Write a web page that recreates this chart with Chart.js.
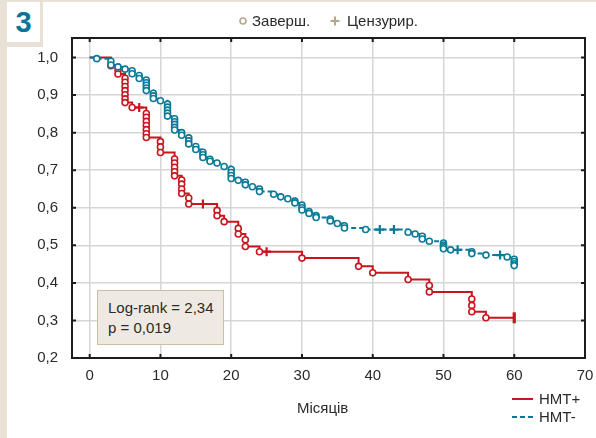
<!DOCTYPE html>
<html>
<head>
<meta charset="utf-8">
<script src="https://cdn.jsdelivr.net/npm/chart.js@4/dist/chart.umd.min.js"></script>
<style>
  html, body { margin:0; padding:0; }
  body { width:596px; height:438px; overflow:hidden; background:#e8e1d5; position:relative;
         font-family:"Liberation Sans", Arial, sans-serif; color:#222; }
  .abs { position:absolute; }
  .white { background:#fff; }
  #c { position:absolute; left:0; top:0; }
  .txt { font-size:15px; line-height:18px; white-space:nowrap; color:#2a2a2a; }
</style>
</head>
<body>
<div class="abs white" style="left:43px;top:2px;width:553px;height:436px;"></div>
<div class="abs white" style="left:7px;top:47px;width:589px;height:391px;"></div>
<div class="abs white" style="left:7px;top:2px;width:33px;height:40px;"></div>
<div class="abs" style="left:7px;top:2px;width:33px;height:40px;text-align:center;font:bold 29px/40px 'Liberation Sans',Arial,sans-serif;color:#0a7595;">3</div>

<canvas id="c" width="596" height="438"></canvas>

<!-- top legend -->
<svg class="abs" style="left:238px;top:15px;" width="12" height="12"><circle cx="5" cy="6" r="3" fill="#fff" stroke="#b9a68a" stroke-width="1.6"/></svg>
<div class="abs txt" style="left:252px;top:12px;">Заверш.</div>
<svg class="abs" style="left:329px;top:15px;" width="12" height="12"><path d="M6 1.5 V10.5 M1.5 6 H10.5" stroke="#b9a68a" stroke-width="2"/></svg>
<div class="abs txt" style="left:347px;top:12px;">Цензурир.</div>

<!-- x axis title -->
<div class="abs txt" style="left:297px;top:399px;">Місяців</div>

<!-- log-rank box -->
<div class="abs" style="left:97px;top:290px;width:125px;height:53px;background:#eeeae3;border:1.5px solid #cdbfa2;"></div>
<div class="abs txt" style="left:108px;top:299px;">Log-rank = 2,34</div>
<div class="abs txt" style="left:108px;top:319px;">p = 0,019</div>

<!-- bottom-right legend -->
<svg class="abs" style="left:510px;top:392px;" width="26" height="30">
  <line x1="2" y1="7" x2="23" y2="7" stroke="#c8161e" stroke-width="2"/>
  <line x1="2" y1="25" x2="23" y2="25" stroke="#0b7a98" stroke-width="2" stroke-dasharray="5,3"/>
</svg>
<div class="abs txt" style="left:539px;top:390px;">HMT+</div>
<div class="abs txt" style="left:539px;top:408px;">HMT-</div>

<script>
// ---- data ----
const xTicks = [0, 10, 20, 30, 40, 50, 60, 70];
const yTicks = [0.2, 0.3, 0.4, 0.5, 0.6, 0.7, 0.8, 0.9, 1.0];

// HMT+ (red): time (months), survival, marker ('o' event, '+' censored, '|' end censor, '' none)
const redT = [0, 3, 4, 4, 5, 5, 5, 5, 5, 5, 5, 6, 7, 8, 8, 8, 8, 8, 8, 8, 10, 10, 10,
  12, 12, 12, 12, 12, 13, 13, 13, 13, 14, 14, 16, 18, 18, 19, 21, 21, 22, 22, 24, 25,
  30, 38, 40, 45, 48, 48, 54, 54, 54, 56, 60];
const redS = [1.0, .978, .967, .956, .945, .934, .923, .912, .901, .890, .880, .867, .867,
  .851, .841, .830, .819, .808, .797, .787, .776, .762, .747,
  .730, .719, .708, .696, .685, .674, .663, .650, .638, .626, .610, .610, .593, .579, .563,
  .545, .530, .515, .497, .483, .483, .466, .444, .427, .409, .393, .376, .357, .340, .323, .307, .307];
const redM = ['', 'o', 'o', 'o', 'o', 'o', 'o', 'o', 'o', 'o', 'o', 'o', '+',
  'o', 'o', 'o', 'o', 'o', 'o', 'o', 'o', 'o', 'o',
  'o', 'o', 'o', 'o', 'o', 'o', 'o', 'o', 'o', 'o', 'o', '+', 'o', 'o', 'o',
  'o', 'o', 'o', 'o', 'o', '+', 'o', 'o', 'o', 'o', 'o', 'o', 'o', 'o', 'o', 'o', '|'];

// HMT- (teal)
const tealT = [0, 1, 3, 3, 4, 5, 6, 6, 7, 7, 8, 8, 8, 8, 8, 9, 9, 9, 10,
  11, 11, 11, 11, 11, 12, 12, 12, 12, 12, 13, 13, 14, 14, 14, 15, 15, 16, 16, 16,
  17, 17, 18, 19, 20, 20, 20, 20, 21, 22, 22, 23, 24, 24, 26, 27, 28, 29, 29,
  30, 30, 30, 31, 31, 32, 32, 34, 34, 35, 36, 36, 39, 41, 43, 45, 46, 47, 47, 48,
  50, 50, 50, 50, 51, 52, 54, 54, 56, 58, 59, 60, 60, 60, 60];
const tealS = [1.0, .997, .990, .980, .975, .969, .965, .957, .952, .944,
  .940, .933, .926, .919, .912, .905, .898, .891, .885,
  .876, .868, .860, .852, .844, .837, .829, .822, .814, .807, .800, .793,
  .786, .778, .770, .763, .755, .748, .741, .734, .729, .724, .719, .710,
  .702, .694, .686, .678, .673, .668, .661, .656, .650, .643, .636, .629, .624, .618, .613,
  .607, .600, .594, .590, .585, .579, .574, .570, .565, .558, .552, .546, .542, .542, .542,
  .535, .530, .524, .517, .511, .506, .501, .496, .491, .488, .488, .483, .478, .474, .474,
  .469, .463, .457, .451, .446];
const tealM = tealT.map((t, i) => i === 0 ? '' : ([41, 43, 52, 58].includes(t) ? '+' : 'o'));

const RED = '#c8161e', TEAL = '#0b7a98';

function ds(label, T, S, M, color, dash) {
  return {
    label,
    data: T.map((t, i) => ({ x: t, y: S[i] })),
    borderColor: color,
    borderWidth: 2,
    borderDash: dash,
    stepped: true,
    fill: false,
    pointBackgroundColor: '#fff',
    pointBorderColor: color,
    pointStyle: c => { const m = M[c.dataIndex]; return m === '+' ? 'cross' : (m === '|' ? 'line' : 'circle'); },
    pointRadius: c => { const m = M[c.dataIndex]; return m === '' ? 0 : (m === 'o' ? 3 : (m === '+' ? 4.5 : 5.5)); },
    pointRotation: c => M[c.dataIndex] === '|' ? 90 : 0,
    pointBorderWidth: c => { const m = M[c.dataIndex]; return m === 'o' ? 1.6 : (m === '+' ? 2.2 : 3.2); }
  };
}

const framePlugin = {
  id: 'frame',
  afterDraw(chart) {
    const { ctx, chartArea: a, scales: { x, y } } = chart;
    ctx.save();
    ctx.strokeStyle = '#1c1c1c';
    ctx.lineWidth = 2;
    ctx.strokeRect(a.left, a.top, a.right - a.left, a.bottom - a.top);
    ctx.beginPath();
    xTicks.forEach(v => {
      const p = x.getPixelForValue(v);
      ctx.moveTo(p, a.bottom); ctx.lineTo(p, a.bottom - 4);
      ctx.moveTo(p, a.top); ctx.lineTo(p, a.top + 4);
    });
    yTicks.forEach(v => {
      const p = y.getPixelForValue(v);
      ctx.moveTo(a.left, p); ctx.lineTo(a.left + 4, p);
      ctx.moveTo(a.right, p); ctx.lineTo(a.right - 4, p);
    });
    ctx.stroke();
    ctx.restore();
  }
};

const font = { family: "'Liberation Sans', Arial, sans-serif", size: 15 };

new Chart(document.getElementById('c'), {
  type: 'line',
  data: { datasets: [ ds('HMT-', tealT, tealS, tealM, TEAL, [5, 3]), ds('HMT+', redT, redS, redM, RED, []) ] },
  options: {
    responsive: false,
    animation: false,
    events: [],
    layout: { padding: { left: 0, top: 38, right: 11, bottom: 0 } },
    plugins: { legend: { display: false }, tooltip: { enabled: false } },
    scales: {
      x: {
        type: 'linear', position: 'bottom', min: -2.5, max: 70,
        afterBuildTicks: s => { s.ticks = xTicks.map(v => ({ value: v })); },
        afterFit: s => { s.height = 80; s.paddingLeft = 0; s.paddingRight = 0; },
        grid: { color: '#d6d6d6', lineWidth: 1.5, drawTicks: false },
        border: { display: false },
        ticks: { font, color: '#2a2a2a', padding: 9, maxRotation: 0, autoSkip: false }
      },
      y: {
        type: 'linear', min: 0.2, max: 1.052,
        afterBuildTicks: s => { s.ticks = yTicks.map(v => ({ value: v })); },
        afterFit: s => { s.width = 72; s.paddingTop = 0; s.paddingBottom = 0; },
        grid: { color: '#d6d6d6', lineWidth: 1.5, drawTicks: false },
        border: { display: false },
        ticks: { font, color: '#2a2a2a', padding: 14, callback: v => v.toFixed(1).replace('.', ',') }
      }
    }
  },
  plugins: [framePlugin]
});
</script>
</body>
</html>
